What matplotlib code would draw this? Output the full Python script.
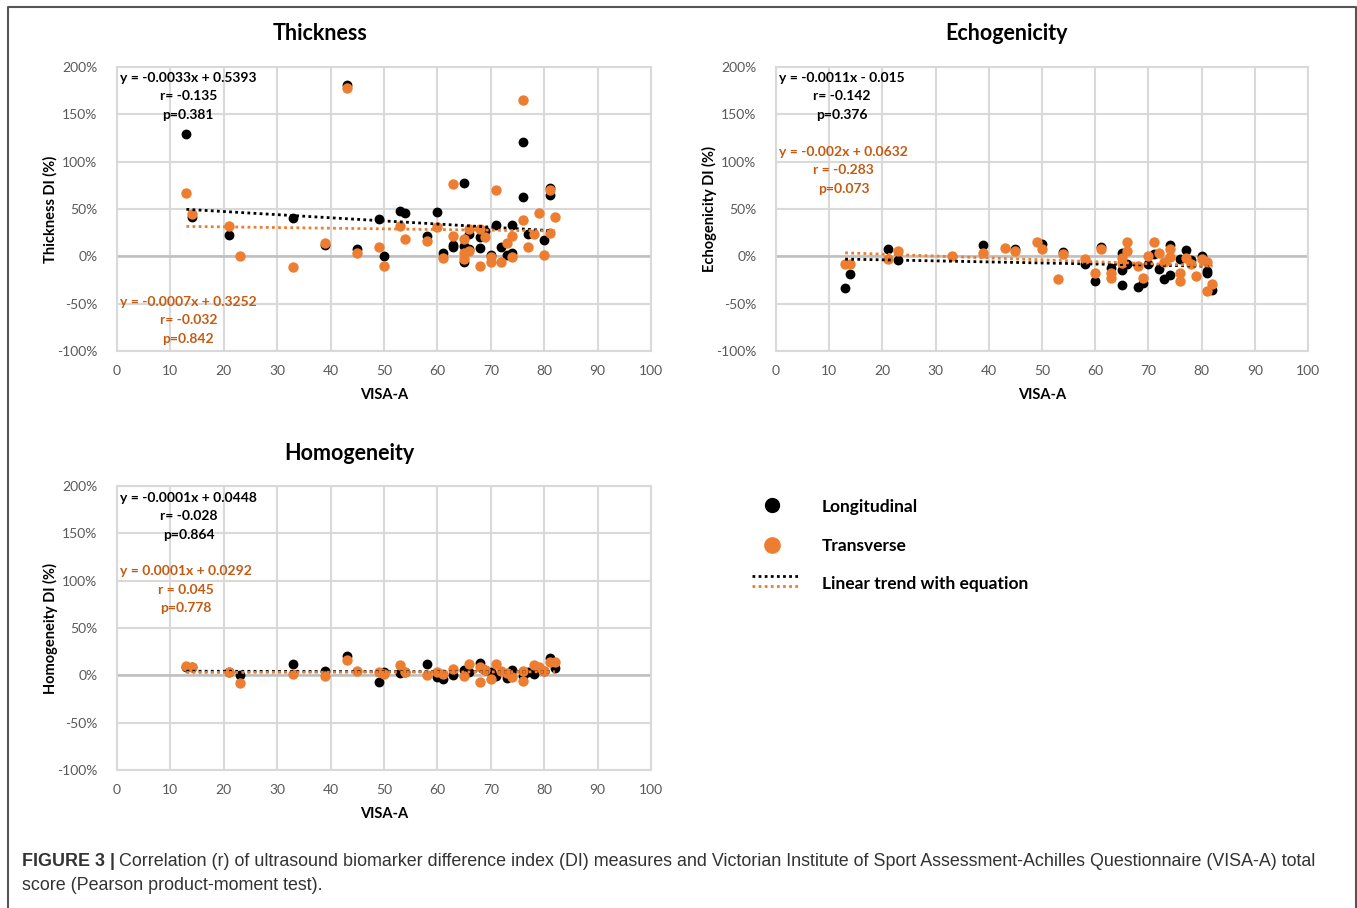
import numpy as np
import matplotlib
matplotlib.use('Agg')
import matplotlib.pyplot as plt
from matplotlib.lines import Line2D

plt.rcParams['font.family'] = ['Lato', 'DejaVu Sans']

BLACK = '#000000'
ORANGE = '#ed7d31'
ORANGE_TXT = '#c55a11'
GRID = '#d9d9d9'
TICK = '#595959'

# Thickness
th_long_x = [13, 14, 21, 33, 39, 43, 45, 49, 50, 53, 54, 58, 60, 61, 63, 63, 65, 65, 65,
             66, 66, 68, 68, 69, 71, 70, 72, 73, 74, 74, 76, 76, 77, 80, 81, 81]
th_long_y = [129, 41.5, 23, 40, 11.6, 181, 7.4, 39, 0, 48, 46, 21, 46.5, 3, 12, 10, 77.5, 10.5, -6,
             24, 8, 20, 8.5, 27, 33, 1, 10, 1, 33, 3.5, 121, 63, 24, 17.6, 72.6, 64.5]
th_tr_x = [13, 14, 21, 23, 33, 39, 43, 45, 49, 50, 53, 54, 58, 60, 61, 63, 63, 65, 65, 65,
           66, 66, 68, 68, 69, 71, 70, 70, 72, 73, 74, 74, 76, 76, 77, 78, 79, 80, 81, 81, 82]
th_tr_y = [67, 45, 32, 0, -11.6, 14, 177.6, 3.5, 10, -10, 32, 18, 16, 31, -1.4, 76, 21, 18, 3, -3,
           29, 5.5, 29, -10, 20, 70, -1, -6, -6, 14.5, 22, -1, 165, 38, 10, 24, 46, 1, 70, 25, 42]

# Echogenicity
ec_long_x = [13, 14, 21, 23, 39, 45, 50, 54, 58, 60, 61, 63, 65, 65, 65, 66, 68, 69, 70, 71,
             72, 73, 74, 74, 76, 77, 78, 80, 81, 81, 82]
ec_long_y = [-33, -18.7, 7.7, -4, 11.6, 8, 13, 5, -8, -26, 10, -12, 3, -14, -30, -8, -32, -28.5, -8, 2,
             -13, -24, -20, 12, -3, 7, -4, 0, -15, -18, -36]
ec_tr_x = [13, 14, 21, 23, 33, 39, 43, 45, 49, 50, 53, 54, 58, 60, 61, 63, 63, 65, 65, 66,
           66, 68, 69, 70, 71, 72, 73, 74, 74, 76, 76, 77, 78, 79, 80, 81, 81, 82]
ec_tr_y = [-8, -8, -3, 6, 0, 3, 8.5, 6, 15, 8, -24, 2, -3, -18, 8, -18, -23, -2, -7, 15,
           6, -10, -23, 0, 15, 3, -6, 8, -1, -18, -26, -2, -8, -21, -3, -6, -37, -29]

# Homogeneity
ho_long_x = [13, 14, 21, 23, 33, 39, 43, 49, 50, 53, 54, 58, 60, 61, 63, 65, 66, 68, 69, 70,
             71, 73, 74, 76, 77, 78, 80, 81, 82]
ho_long_y = [9, 9, 3.5, 0, 11.5, 5, 20, -7, 3, 2, 4, 12, -2, -4, 0, 6, 3, 13, 6, 4,
             -1, -3, 6, -1, 3, 1, 5, 18, 8]
ho_tr_x = [13, 14, 21, 23, 33, 39, 43, 45, 49, 50, 53, 54, 58, 60, 61, 63, 65, 66, 68, 68,
           69, 70, 71, 72, 73, 74, 76, 76, 78, 79, 80, 81, 82]
ho_tr_y = [9.5, 9, 4, -8.5, 1, -1, 15.7, 5, 3, 1, 11, 3, 0, 4, 1, 7, -1, 12, -7, 9,
           6, -4, 12, 5, 2, -2, 5, -6, 11, 9, 5, 14, 14]

panels = ['Thickness', 'Echogenicity', 'Homogeneity']
ylabels = ['Thickness DI (%)', 'Echogenicity DI (%)', 'Homogeneity DI (%)']
long_slope = [-0.0033, -0.0011, -0.0001]
long_icpt = [0.5393, -0.015, 0.0448]
tr_slope = [-0.0007, -0.002, 0.0001]
tr_icpt = [0.3252, 0.0632, 0.0292]
long_txt = ['y = -0.0033x + 0.5393\nr= -0.135\np=0.381',
            'y = -0.0011x - 0.015\nr= -0.142\np=0.376',
            'y = -0.0001x + 0.0448\nr= -0.028\np=0.864']
tr_txt = ['y = -0.0007x + 0.3252\nr= -0.032\np=0.842',
          'y = -0.002x + 0.0632\nr = -0.283\np=0.073',
          'y = 0.0001x + 0.0292\nr = 0.045\np=0.778']

data = [(th_long_x, th_long_y, th_tr_x, th_tr_y),
        (ec_long_x, ec_long_y, ec_tr_x, ec_tr_y),
        (ho_long_x, ho_long_y, ho_tr_x, ho_tr_y)]

W, H = 1357, 908
fig = plt.figure(figsize=(W / 100, H / 100), dpi=100)


def fx(x):
    return x / W


def fy(y):
    return 1 - y / H


# pixel boxes: left, top, right, bottom
boxes = [(117, 67, 651, 351), (776, 67, 1308, 351), (117, 486, 651, 770)]
title_pos = [(320, 34), (1007, 34), (349, 453)]
ylab_x = [50, 709, 50]
long_txt_y = [72, 72, 492]
tr_txt_y = [296, 146, 565]
dots = (0, (1, 1.2))

for i, name in enumerate(panels):
    l, t, r, b = boxes[i]
    ax = fig.add_axes([fx(l), fy(b), (r - l) / W, (b - t) / H])
    lx, ly, tx, ty = data[i]
    ax.scatter(lx, ly, s=50, color=BLACK, zorder=3, linewidths=0)
    ax.scatter(tx, ty, s=56, color=ORANGE, zorder=4, linewidths=0)
    xl = np.array([min(lx), max(lx)])
    ax.plot(xl, (long_slope[i] * xl + long_icpt[i]) * 100, color=BLACK, ls=dots, lw=2, zorder=5)
    xt = np.array([min(tx), max(tx)])
    ax.plot(xt, (tr_slope[i] * xt + tr_icpt[i]) * 100, color=ORANGE, ls=dots, lw=2, zorder=5)

    ax.set_xlim(0, 100)
    ax.set_ylim(-100, 200)
    ax.set_xticks(range(0, 101, 10))
    ax.set_yticks(range(-100, 201, 50))
    ax.set_yticklabels([f'{v}%' for v in range(-100, 201, 50)])
    ax.grid(True, color=GRID, lw=1.5, zorder=0)
    ax.axhline(0, color='#bfbfbf', lw=1.8, zorder=1)
    for s in ax.spines.values():
        s.set_color(GRID)
        s.set_linewidth(1.5)
    ax.tick_params(length=0, labelsize=10, colors=TICK, pad=10)
    ax.tick_params(axis='y', pad=14)
    ax.set_axisbelow(True)

    fig.text(fx(title_pos[i][0]), fy(title_pos[i][1]), name, fontsize=15.5, fontweight='bold',
             ha='center', va='center')
    fig.text(fx(ylab_x[i]), fy((t + b) / 2), ylabels[i], fontsize=10.5, fontweight='bold',
             rotation=90, ha='center', va='center')
    fig.text(fx((l + r) / 2), fy(b + 44), 'VISA-A', fontsize=10.5, fontweight='bold',
             ha='center', va='center')
    fig.text(fx(l + 3), fy(long_txt_y[i]), long_txt[i], fontsize=10, fontweight='bold',
             ha='left', va='top', multialignment='center', linespacing=1.65, color=BLACK)
    fig.text(fx(l + 3), fy(tr_txt_y[i]), tr_txt[i], fontsize=10, fontweight='bold',
             ha='left', va='top', multialignment='center', linespacing=1.65, color=ORANGE_TXT)

# legend
fig.add_artist(Line2D([fx(772)], [fy(505)], marker='o', ms=10, color=BLACK, ls='none'))
fig.add_artist(Line2D([fx(772)], [fy(545)], marker='o', ms=11, color=ORANGE, ls='none'))
fig.add_artist(Line2D([fx(752), fx(800)], [fy(576), fy(576)], color=BLACK, ls=dots, lw=2))
fig.add_artist(Line2D([fx(752), fx(800)], [fy(586), fy(586)], color=ORANGE, ls=dots, lw=2))
for txt, yy in [('Longitudinal', 507), ('Transverse', 546), ('Linear trend with equation', 584)]:
    fig.text(fx(822), fy(yy), txt, fontsize=12.5, fontweight='bold', ha='left', va='center')

# border (left, top, right)
fig.add_artist(Line2D([fx(7.5), fx(7.5), fx(1355.5), fx(1355.5)], [0, fy(6.5), fy(6.5), 0],
                      color='#555555', lw=1.5))

# caption
cap_font = ['Liberation Sans', 'DejaVu Sans']
bold_t = fig.text(fx(22), fy(862), 'FIGURE 3 |', fontsize=12.9, fontweight='bold',
                  family=cap_font, color='#333333', ha='left', va='center')
fig.canvas.draw()
bb = bold_t.get_window_extent()
fig.text((bb.x1 + 4) / W, fy(862),
         'Correlation (r) of ultrasound biomarker difference index (DI) measures and Victorian Institute of Sport Assessment-Achilles Questionnaire (VISA-A) total',
         fontsize=12.9, family=cap_font, color='#333333', ha='left', va='center')
fig.text(fx(22), fy(886), 'score (Pearson product-moment test).', fontsize=12.9, family=cap_font,
         color='#333333', ha='left', va='center')

fig.savefig('out.png', dpi=100)
